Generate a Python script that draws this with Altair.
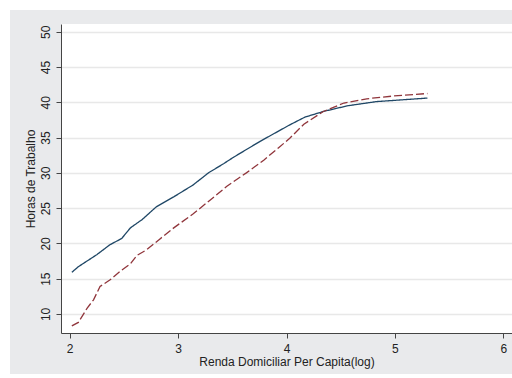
import altair as alt
import pandas as pd

# Solid (navy) series
x_blue = [2.02, 2.08, 2.25, 2.37, 2.48, 2.56, 2.67, 2.80, 2.96, 3.14, 3.28, 3.42, 3.51,
          3.76, 4.03, 4.17, 4.34, 4.56, 4.83, 5.30]
y_blue = [15.9, 16.7, 18.4, 19.8, 20.7, 22.2, 23.4, 25.2, 26.6, 28.3, 30.0, 31.3, 32.2,
          34.5, 36.8, 37.9, 38.7, 39.5, 40.1, 40.6]

# Dashed (maroon) series
x_red = [2.02, 2.08, 2.16, 2.22, 2.28, 2.37, 2.47, 2.56, 2.62, 2.71, 2.83, 2.96, 3.14,
         3.30, 3.45, 3.63, 3.79, 3.93, 4.03, 4.16, 4.34, 4.53, 4.74, 4.99, 5.30]
y_red = [8.3, 8.8, 10.8, 12.0, 13.9, 14.8, 16.1, 17.1, 18.3, 19.1, 20.6, 22.2, 24.2,
         26.2, 28.1, 30.0, 31.8, 33.6, 34.9, 36.9, 38.7, 39.9, 40.5, 40.9, 41.25]

x_ticks = [2, 3, 4, 5, 6]
y_ticks = [10, 15, 20, 25, 30, 35, 40, 45, 50]

df = pd.concat([
    pd.DataFrame({"x": x_blue, "y": y_blue, "s": "a", "o": range(len(x_blue))}),
    pd.DataFrame({"x": x_red, "y": y_red, "s": "b", "o": range(len(x_red))}),
])

W, H = 451, 309
PL, PT, PB = 61, 24, 41

lines = alt.Chart(df).mark_line(strokeWidth=1.3).encode(
    x=alt.X("x:Q", scale=alt.Scale(domain=[1.92, 6.08], nice=False, zero=False),
            axis=alt.Axis(values=x_ticks, title="Renda Domiciliar Per Capita(log)",
                          grid=False, labelPadding=5, titlePadding=2)),
    y=alt.Y("y:Q", scale=alt.Scale(domain=[7.3, 51.1], nice=False, zero=False),
            axis=alt.Axis(values=y_ticks, title="Horas de Trabalho", grid=True,
                          labelAngle=270, labelAlign="center", labelBaseline="bottom",
                          labelPadding=4, titlePadding=2)),
    color=alt.Color("s:N", scale=alt.Scale(domain=["a", "b"], range=["#1f4766", "#90353b"]),
                    legend=None),
    strokeDash=alt.StrokeDash("s:N", scale=alt.Scale(domain=["a", "b"], range=[[1, 0], [8, 3]]),
                              legend=None),
    order="o:Q",
)

one = pd.DataFrame({"a": [0]})
left_strip = alt.Chart(one).mark_rect(color="white").encode(
    x=alt.value(-PL), x2=alt.value(-PL + 10), y=alt.value(-PT), y2=alt.value(H + PB))
top_strip = alt.Chart(one).mark_rect(color="white").encode(
    x=alt.value(-PL), x2=alt.value(W), y=alt.value(-PT), y2=alt.value(-PT + 10))

chart = alt.layer(left_strip, top_strip, lines).properties(
    width=W, height=H,
    autosize=alt.AutoSizeParams(type="none"),
    padding={"left": PL, "top": PT, "right": 0, "bottom": PB},
    background="#e9eaec",
).configure_view(fill="white", stroke=None).configure_axis(
    labelFont="Liberation Sans", titleFont="Liberation Sans",
    labelFontSize=12, titleFontSize=12, labelColor="#222", titleColor="#222",
    titleFontWeight="normal", domainColor="#444", tickColor="#444", tickSize=5,
    gridColor="#e8e8e8", gridWidth=1.5,
)

chart.save("out.html", embed_options={"renderer": "svg", "actions": False})
